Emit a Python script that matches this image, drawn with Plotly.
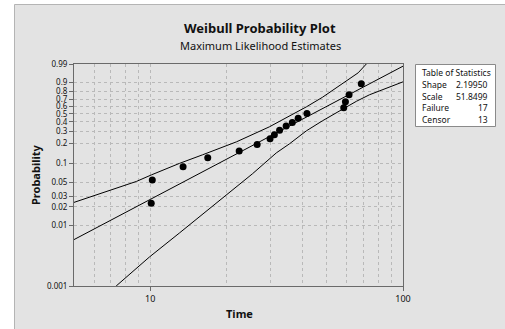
import numpy as np
import plotly.graph_objects as go

# ---------------- data ----------------
fail_time = [10.2, 10.1, 13.5, 16.9, 22.5, 26.5, 29.8, 31.0, 32.5, 34.5, 36.5, 38.5, 41.7, 58.3, 59.2, 61.2, 68.4]
fail_prob = [0.0547, 0.0229, 0.0883, 0.123, 0.156, 0.194, 0.235, 0.270, 0.311, 0.355, 0.392, 0.445, 0.504, 0.581, 0.665, 0.760, 0.886]

upper_time = [5.0, 6.48, 8.83, 10.12, 13.06, 16.09, 21.93, 29.61, 35.53, 41.48, 47.98, 54.5, 61.33, 66.5, 71.6]
upper_prob = [0.0237, 0.0338, 0.0518, 0.0659, 0.1001, 0.1356, 0.2124, 0.3448, 0.4674, 0.595, 0.7267, 0.8447, 0.9274, 0.963, 0.99]

lower_time = [7.34, 9.94, 13.06, 15.24, 18.79, 25.37, 31.56, 35.53, 41.48, 47.98, 57.56, 65.38, 73.6, 100.0]
lower_prob = [0.001, 0.00301, 0.00747, 0.01247, 0.0250, 0.0684, 0.1455, 0.1985, 0.3046, 0.412, 0.5605, 0.672, 0.760, 0.9036]

shape = 2.19950
scale = 51.8499
failures = 17
censored = 13

y_ticks = [0.001, 0.01, 0.02, 0.03, 0.05, 0.1, 0.2, 0.3, 0.4, 0.5, 0.6, 0.7, 0.8, 0.9, 0.99]
y_tick_labels = ["0.001", "0.01", "0.02", "0.03", "0.05", "0.1", "0.2", "0.3", "0.4", "0.5", "0.6", "0.7", "0.8", "0.9", "0.99"]
x_ticks = [10, 100]
x_tick_labels = ["10", "100"]
x_grid = [6, 7, 8, 9, 10, 20, 30, 40, 50, 60, 70, 80, 90]
x_min, x_max = 5, 100


def wb(p):
    p = np.asarray(p, dtype=float)
    return np.log(-np.log(1 - p))


# fitted line from the estimated parameters
fit_t = np.geomspace(x_min, x_max, 60)
fit_w = shape * (np.log(fit_t) - np.log(scale))

FONT = "Noto Sans"
GRID = "#b9b9b9"

fig = go.Figure()
fig.add_trace(go.Scatter(x=upper_time, y=wb(upper_prob), mode="lines", line=dict(color="black", width=1), hoverinfo="skip"))
fig.add_trace(go.Scatter(x=lower_time, y=wb(lower_prob), mode="lines", line=dict(color="black", width=1), hoverinfo="skip"))
fig.add_trace(go.Scatter(x=fit_t, y=fit_w, mode="lines", line=dict(color="black", width=1), hoverinfo="skip"))
fig.add_trace(go.Scatter(x=fail_time, y=wb(fail_prob), mode="markers", marker=dict(color="black", size=7)))

# pixel geometry helpers (layout only)
L, R, T, B = 74, 403, 64, 286
def px(x):
    return (x - L) / (R - L)
def py(y):
    return (B - y) / (B - T)

shapes = [
    dict(type="rect", xref="paper", yref="paper", x0=px(14.5), x1=px(506), y0=py(4.5), y1=py(330),
         fillcolor="#e3e3e3", line=dict(color="#b4b4b4", width=1), layer="below"),
    dict(type="rect", xref="paper", yref="paper", x0=px(415.5), x1=px(495.5), y0=py(64.5), y1=py(126.5),
         fillcolor="white", line=dict(color="#8a8a8a", width=1), layer="above"),
]

ann = [
    dict(text="<b>Weibull Probability Plot</b>", x=px(260), y=py(27.5), font=dict(size=13, color="#111111", family=FONT)),
    dict(text="Maximum Likelihood Estimates", x=px(260), y=py(45), font=dict(size=11, color="#111111", family=FONT)),
    dict(text="<b>Probability</b>", x=px(35), y=py(175), textangle=-90, font=dict(size=11, color="#111111", family=FONT)),
    dict(text="<b>Time</b>", x=px(239), y=py(313), font=dict(size=11, color="#111111", family=FONT)),
]
for a in ann:
    a.update(xref="paper", yref="paper", showarrow=False, xanchor="center", yanchor="middle")

tbl_rows = [("Shape", f"{shape:.5f}"), ("Scale", f"{scale:.4f}"), ("Failure", str(failures)), ("Censor", str(censored))]
tfont = dict(size=8.5, color="#111111", family=FONT)
ann.append(dict(text="Table of Statistics", x=px(420.5), y=py(72.3), xref="paper", yref="paper", showarrow=False,
                xanchor="left", yanchor="middle", font=tfont))
for i, (k, v) in enumerate(tbl_rows):
    yy = py(84.3 + i * 11.8)
    ann.append(dict(text=k, x=px(420.5), y=yy, xref="paper", yref="paper", showarrow=False, xanchor="left", yanchor="middle", font=tfont))
    ann.append(dict(text=v, x=px(490), y=yy, xref="paper", yref="paper", showarrow=False, xanchor="right", yanchor="middle", font=tfont))

fig.update_layout(
    width=505, height=329,
    margin=dict(l=L, r=505 - R, t=T, b=329 - B, pad=0),
    paper_bgcolor="white", plot_bgcolor="white",
    showlegend=False,
    shapes=shapes, annotations=ann,
    xaxis=dict(type="log", range=[np.log10(x_min), np.log10(x_max)], tickmode="array", tickvals=x_ticks, ticktext=x_tick_labels,
               showgrid=False, zeroline=False, showline=True, mirror=True, linecolor="#6a6a6a", linewidth=1,
               ticks="outside", ticklen=4, tickcolor="#6a6a6a", tickfont=dict(size=9, color="#111111", family=FONT),
               minor=dict(tickmode="array", tickvals=x_grid, showgrid=True, gridcolor=GRID, griddash="dot", gridwidth=1, ticks="")),
    yaxis=dict(range=[float(wb(0.001)), float(wb(0.99))], tickmode="array", tickvals=[float(v) for v in wb(y_ticks)], ticktext=y_tick_labels,
               showgrid=True, gridcolor=GRID, griddash="dot", gridwidth=1, zeroline=False,
               showline=True, mirror=True, linecolor="#6a6a6a", linewidth=1,
               ticks="outside", ticklen=4, tickcolor="#6a6a6a", tickfont=dict(size=8, color="#111111", family=FONT)),
)

fig.write_html("out.html")
